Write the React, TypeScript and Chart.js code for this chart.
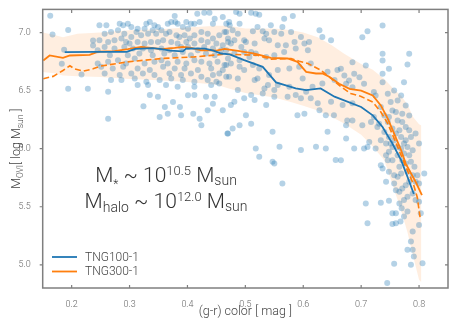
import React, { useEffect, useRef } from 'react';
import { Chart, registerables } from 'chart.js';

Chart.register(...registerables);

const FONT = "Roboto, 'Open Sans', 'DejaVu Sans', sans-serif";

const xTicks = [0.2, 0.3, 0.4, 0.5, 0.6, 0.7, 0.8];
const yTicks = [5.0, 5.5, 6.0, 6.5, 7.0];

// TNG100-1 median (solid blue)
const tng100X = [0.188, 0.24, 0.295, 0.31, 0.34, 0.355, 0.37, 0.392, 0.398, 0.43, 0.445, 0.458, 0.473, 0.498, 0.53, 0.553, 0.587, 0.605, 0.63, 0.654, 0.7, 0.72, 0.737, 0.754, 0.769, 0.78, 0.791];
const tng100Y = [6.832, 6.834, 6.834, 6.86, 6.866, 6.858, 6.845, 6.838, 6.865, 6.862, 6.845, 6.82, 6.812, 6.763, 6.705, 6.571, 6.519, 6.505, 6.519, 6.448, 6.359, 6.287, 6.187, 6.044, 5.901, 5.758, 5.61];

// TNG300-1 median (solid orange)
const tng300X = [0.151, 0.162, 0.185, 0.197, 0.231, 0.246, 0.274, 0.297, 0.32, 0.337, 0.355, 0.378, 0.392, 0.406, 0.424, 0.438, 0.45, 0.464, 0.49, 0.516, 0.544, 0.573, 0.59, 0.605, 0.622, 0.633, 0.645, 0.662, 0.68, 0.7, 0.72, 0.734, 0.746, 0.757, 0.769, 0.777, 0.794, 0.805];
const tng300Y = [6.76, 6.803, 6.783, 6.803, 6.809, 6.837, 6.84, 6.857, 6.877, 6.868, 6.857, 6.868, 6.877, 6.868, 6.848, 6.848, 6.845, 6.86, 6.84, 6.82, 6.783, 6.777, 6.748, 6.662, 6.648, 6.648, 6.62, 6.56, 6.515, 6.5, 6.459, 6.373, 6.259, 6.13, 5.987, 5.872, 5.715, 5.601];

// TNG300-1 secondary (dashed orange)
const tng300bX = [0.151, 0.168, 0.185, 0.197, 0.205, 0.22, 0.237, 0.249, 0.297, 0.355, 0.412, 0.464, 0.521, 0.544, 0.579, 0.593, 0.608, 0.63, 0.648, 0.665, 0.682, 0.7, 0.72, 0.734, 0.746, 0.757, 0.769, 0.777, 0.79, 0.797, 0.802];
const tng300bY = [6.603, 6.623, 6.674, 6.714, 6.688, 6.668, 6.688, 6.711, 6.748, 6.777, 6.791, 6.814, 6.805, 6.771, 6.777, 6.754, 6.734, 6.677, 6.605, 6.534, 6.476, 6.45, 6.402, 6.316, 6.216, 6.087, 5.944, 5.844, 5.7, 5.58, 5.4];

// TNG300-1 scatter band
const bandX = [0.15, 0.17, 0.185, 0.21, 0.25, 0.3, 0.35, 0.4, 0.45, 0.47, 0.5, 0.55, 0.58, 0.6, 0.625, 0.65, 0.67, 0.7, 0.72, 0.74, 0.755, 0.77, 0.78, 0.79, 0.8, 0.804];
const bandHigh = [7.0, 6.98, 6.96, 6.99, 7.0, 7.02, 7.03, 7.045, 7.06, 7.06, 7.035, 7.035, 7.02, 7.0, 6.96, 6.89, 6.82, 6.73, 6.68, 6.6, 6.52, 6.45, 6.38, 6.27, 6.21, 6.2];
const bandLow = [6.66, 6.65, 6.63, 6.625, 6.617, 6.6, 6.59, 6.575, 6.55, 6.52, 6.48, 6.44, 6.4, 6.37, 6.33, 6.27, 6.22, 6.12, 6.02, 5.9, 5.68, 5.45, 5.28, 5.07, 4.87, 4.85];

// individual galaxies: [(g-r) color, log M_OVI]
const galaxies: [number, number][] = [
  [0.378,7.143],[0.379,7.092],[0.383,7.077],[0.417,7.163],[0.429,7.172],[0.438,7.172],[0.447,7.120],[0.461,7.134],[0.467,7.077],[0.473,7.063],[0.398,7.092],[0.406,7.077],[0.412,7.077],[0.421,7.092],[0.444,7.077],[0.283,7.077],[0.289,7.063],[0.297,7.077],[0.260,7.063],[0.248,7.063],[0.329,7.077],[0.335,7.092],[0.343,7.063],[0.349,7.049],[0.366,7.077],[0.372,7.092],[0.392,7.049],[0.401,7.034],[0.314,7.034],[0.326,7.034],[0.303,7.049],
  [0.257,6.991],[0.268,7.006],[0.280,7.020],[0.291,6.991],[0.303,6.963],[0.312,7.006],[0.320,6.977],[0.332,6.991],[0.340,7.020],[0.346,6.991],[0.355,7.020],[0.363,6.991],[0.369,7.006],[0.381,6.977],[0.386,6.963],[0.395,6.977],[0.404,6.949],[0.412,6.977],[0.424,7.006],[0.435,6.991],[0.444,6.949],[0.455,6.977],[0.464,7.006],[0.248,6.934],[0.263,6.920],[0.274,6.934],[0.286,6.949],[0.294,6.920],[0.300,6.906],[0.314,6.920],[0.326,6.906],[0.337,6.920],[0.349,6.920],[0.358,6.934],[0.372,6.920],[0.383,6.906],[0.398,6.920],[0.412,6.906],[0.424,6.934],[0.435,6.920],[0.450,6.906],[0.461,6.891],[0.470,6.920],
  [0.245,6.848],[0.257,6.877],[0.274,6.863],[0.291,6.877],[0.306,6.863],[0.323,6.863],[0.337,6.848],[0.355,6.863],[0.369,6.848],[0.389,6.877],[0.401,6.877],[0.418,6.848],[0.429,6.877],[0.444,6.863],[0.458,6.848],[0.266,6.805],[0.297,6.805],[0.317,6.820],[0.340,6.805],[0.360,6.820],[0.378,6.805],[0.392,6.834],[0.406,6.805],[0.432,6.820],[0.447,6.805],
  [0.245,6.734],[0.263,6.748],[0.280,6.763],[0.294,6.734],[0.309,6.777],[0.326,6.734],[0.343,6.748],[0.355,6.763],[0.366,6.734],[0.383,6.748],[0.398,6.734],[0.412,6.763],[0.424,6.748],[0.438,6.734],[0.452,6.748],[0.467,6.720],[0.251,6.705],[0.271,6.691],[0.289,6.705],[0.314,6.691],[0.335,6.677],[0.358,6.705],[0.378,6.691],[0.395,6.691],[0.418,6.677],[0.441,6.691],[0.461,6.677],
  [0.257,6.648],[0.283,6.634],[0.303,6.648],[0.323,6.648],[0.343,6.634],[0.369,6.648],[0.389,6.634],[0.406,6.648],[0.424,6.620],[0.444,6.634],[0.455,6.648],[0.467,6.620],[0.268,6.591],[0.286,6.591],[0.309,6.605],[0.329,6.577],[0.352,6.591],[0.372,6.605],[0.392,6.591],[0.412,6.577],[0.435,6.591],[0.450,6.577],[0.314,6.548],[0.332,6.548],[0.363,6.548],[0.383,6.534],[0.412,6.534],[0.441,6.548],[0.455,6.562],
  [0.263,6.491],[0.335,6.462],[0.349,6.448],[0.412,6.462],[0.432,6.448],[0.447,6.448],
  [0.484,7.177],[0.490,7.163],[0.510,7.172],[0.518,7.163],[0.524,7.154],[0.582,7.143],[0.472,7.092],[0.490,7.077],[0.521,7.049],[0.544,7.063],[0.567,7.120],[0.564,7.049],[0.467,7.006],[0.478,7.020],[0.487,6.991],[0.513,7.011],[0.530,7.011],[0.536,6.991],[0.550,7.006],[0.562,6.991],[0.579,7.006],[0.596,6.963],[0.585,6.920],[0.602,6.906],[0.610,6.920],[0.628,7.020],[0.633,6.963],[0.648,6.934],[0.470,6.949],[0.481,6.934],[0.498,6.934],[0.475,6.906],[0.493,6.877],[0.501,6.920],[0.516,6.906],[0.533,6.949],[0.541,6.934],[0.556,6.891],[0.570,6.891],[0.567,6.834],[0.550,6.805],[0.498,6.834],[0.510,6.834],[0.518,6.820],[0.536,6.791],[0.467,6.848],[0.481,6.820],[0.587,6.863],[0.608,6.848],[0.470,6.777],[0.490,6.763],[0.507,6.791],[0.464,6.720],[0.475,6.734],[0.490,6.705],[0.498,6.677],[0.513,6.720],[0.524,6.691],[0.541,6.634],[0.556,6.677],[0.576,6.691],[0.593,6.705],[0.613,6.734],[0.642,6.662],[0.659,6.677],[0.472,6.620],[0.487,6.605],[0.516,6.591],[0.521,6.605],[0.539,6.548],[0.550,6.505],[0.533,6.519],[0.556,6.548],[0.576,6.534],[0.599,6.605],[0.605,6.491],[0.616,6.534],[0.633,6.562],[0.654,6.591],[0.487,6.505],[0.510,6.462],[0.516,6.419],[0.498,6.434],[0.530,6.476],[0.550,6.448],[0.573,6.448],[0.587,6.462],[0.596,6.434],[0.613,6.434],[0.625,6.391],[0.648,6.405],[0.668,6.376],[0.685,6.391],[0.481,6.405],[0.536,6.376],[0.475,6.376],
  [0.737,6.817],[0.783,6.817],[0.737,6.759],[0.780,6.725],[0.708,6.716],[0.748,6.688],[0.737,6.645],[0.685,6.745],[0.665,6.688],[0.671,6.631],[0.688,6.645],[0.697,6.616],[0.679,6.588],[0.674,6.559],[0.705,6.559],[0.685,6.530],[0.737,6.573],[0.774,6.573],[0.722,6.488],[0.725,6.459],[0.746,6.473],[0.757,6.502],[0.769,6.459],[0.763,6.416],[0.751,6.402],[0.777,6.373],[0.783,6.287],[0.754,6.330],[0.760,6.316],[0.734,6.359],[0.740,6.287],[0.731,6.216],[0.722,6.273],[0.676,6.244],[0.685,6.244],[0.674,6.201],[0.702,6.201],[0.717,6.230],[0.728,6.187],[0.746,6.230],[0.763,6.244],[0.771,6.230],[0.777,6.187],[0.766,6.159],[0.754,6.173],[0.740,6.144],[0.748,6.101],[0.734,6.073],[0.743,6.044],[0.757,6.073],[0.769,6.101],[0.777,6.073],[0.786,6.101],[0.794,6.130],[0.800,6.044],[0.780,6.015],[0.769,6.001],[0.754,6.015],[0.748,5.973],[0.743,5.944],[0.763,5.944],[0.774,5.958],[0.783,5.944],[0.786,5.887],[0.777,5.872],[0.766,5.844],[0.754,5.901],[0.734,5.858],[0.737,5.830],[0.748,5.801],[0.757,5.772],[0.769,5.787],[0.780,5.801],[0.792,5.844],[0.797,5.772],[0.789,5.772],[0.809,5.787],[0.688,6.001],[0.705,6.001],[0.711,6.015],[0.725,6.001],[0.714,6.058],[0.674,6.087],[0.665,5.901],[0.763,5.758],
  [0.748,6.273],[0.771,6.302],[0.760,6.130],[0.774,6.044],[0.789,5.987],[0.751,6.044],[0.746,5.901],[0.771,5.901],[0.763,6.015],[0.783,6.159],
  [0.702,6.960],[0.711,7.012],[0.737,7.061],[0.461,6.331],[0.501,6.288],[0.510,6.216],[0.490,6.202],[0.478,6.173],[0.469,6.131],[0.547,6.145],[0.559,6.016],[0.596,5.988],[0.622,6.016],[0.639,6.002],[0.642,6.145],[0.590,6.288],[0.602,6.302],[0.628,6.331],[0.639,6.288],[0.653,6.288],[0.547,5.887],[0.524,5.930],[0.518,6.002],[0.656,5.902],
  [0.163,7.146],[0.167,6.983],[0.194,7.023],[0.187,6.852],[0.183,6.731],[0.194,6.517],[0.228,6.517],[0.217,6.640],[0.237,6.889],[0.237,6.932],[0.263,6.259],[0.324,6.365],[0.352,6.274],[0.361,6.360],[0.366,6.302],[0.375,6.402],[0.387,6.360],[0.389,6.288],[0.401,6.460],[0.410,6.302],[0.421,6.259],[0.424,6.202],[0.435,6.331],[0.444,6.388],[0.470,6.131],
  [0.550,5.872],[0.564,5.701],[0.708,5.529],[0.711,5.357],[0.734,5.535],[0.748,5.552],[0.754,5.443],[0.760,5.443],[0.754,5.352],[0.760,5.357],[0.768,5.372],[0.774,5.415],[0.770,5.486],[0.780,5.458],[0.766,5.529],[0.774,5.558],[0.780,5.586],[0.789,5.615],[0.794,5.558],[0.800,5.543],[0.803,5.443],[0.800,5.343],[0.789,5.286],[0.786,5.200],[0.780,5.129],[0.789,5.129],[0.791,5.071],[0.786,5.000],[0.806,5.014],[0.757,5.008],[0.745,4.842],[0.760,5.643],[0.766,5.629],[0.771,5.658],[0.777,5.686],[0.794,5.715],[0.800,5.701],[0.783,5.715],[0.743,5.715],[0.757,5.701],
];

const BLUE = '#1f77b4';
const ORANGE = '#ff7f0e';

type Seg = { t: string; size: number; dy: number };

function drawRich(ctx: CanvasRenderingContext2D, segs: Seg[], cx: number, base: number, weight: string) {
  let total = 0;
  const widths: number[] = [];
  for (const s of segs) {
    ctx.font = `${weight} ${s.size}px ${FONT}`;
    const w = ctx.measureText(s.t).width;
    widths.push(w);
    total += w;
  }
  let x = cx - total / 2;
  segs.forEach((s, i) => {
    ctx.font = `${weight} ${s.size}px ${FONT}`;
    ctx.fillText(s.t, x, base + s.dy);
    x += widths[i];
  });
}

const decorPlugin = {
  id: 'decor',
  afterDraw(chart: any) {
    const { ctx, chartArea: a, scales } = chart;
    ctx.save();
    // frame
    ctx.strokeStyle = '#7f7f7f';
    ctx.lineWidth = 1.5;
    ctx.strokeRect(a.left, a.top, a.right - a.left, a.bottom - a.top);
    ctx.lineWidth = 1.2;
    ctx.beginPath();
    for (const v of xTicks) {
      const px = scales.x.getPixelForValue(v);
      ctx.moveTo(px, a.top);
      ctx.lineTo(px, a.top + 3.5);
      ctx.moveTo(px, a.bottom);
      ctx.lineTo(px, a.bottom - 3);
    }
    for (const v of yTicks) {
      const py = scales.y.getPixelForValue(v);
      ctx.moveTo(a.left - 3, py);
      ctx.lineTo(a.left, py);
      ctx.moveTo(a.right, py);
      ctx.lineTo(a.right - 3, py);
    }
    ctx.stroke();

    // annotation
    ctx.fillStyle = '#333333';
    ctx.textAlign = 'left';
    ctx.textBaseline = 'alphabetic';
    drawRich(ctx, [
      { t: 'M', size: 21, dy: 0 },
      { t: '*', size: 12, dy: 6 },
      { t: ' ~ 10', size: 21, dy: 0 },
      { t: '10.5', size: 13, dy: -7 },
      { t: ' M', size: 21, dy: 0 },
      { t: 'sun', size: 14, dy: 3 },
    ], 166, 182, '300');
    drawRich(ctx, [
      { t: 'M', size: 21, dy: 0 },
      { t: 'halo', size: 14, dy: 4 },
      { t: ' ~ 10', size: 21, dy: 0 },
      { t: '12.0', size: 13, dy: -7 },
      { t: ' M', size: 21, dy: 0 },
      { t: 'sun', size: 14, dy: 3 },
    ], 166, 208, '300');

    // legend
    const leg = [
      { label: 'TNG100-1', color: BLUE, y: 257 },
      { label: 'TNG300-1', color: ORANGE, y: 271.5 },
    ];
    ctx.lineWidth = 1.8;
    for (const l of leg) {
      ctx.strokeStyle = l.color;
      ctx.beginPath();
      ctx.moveTo(52, l.y);
      ctx.lineTo(77, l.y);
      ctx.stroke();
      ctx.fillStyle = '#444444';
      ctx.font = `300 12px ${FONT}`;
      ctx.textBaseline = 'middle';
      ctx.fillText(l.label, 85, l.y + 0.5);
    }

    // axis titles
    ctx.textBaseline = 'alphabetic';
    ctx.fillStyle = '#444444';
    drawRich(ctx, [{ t: '(g-r) color [ mag ]', size: 12.5, dy: 0 }], (a.left + a.right) / 2, 315, '300');
    ctx.save();
    ctx.translate(0, (a.top + a.bottom) / 2);
    ctx.rotate(-Math.PI / 2);
    drawRich(ctx, [
      { t: 'M', size: 12.5, dy: 0 },
      { t: 'OVI', size: 8.5, dy: 2.5 },
      { t: '[ log M', size: 12.5, dy: 0 },
      { t: 'sun', size: 8.5, dy: 2.5 },
      { t: ' ]', size: 12.5, dy: 0 },
    ], 0, 20, '300');
    ctx.restore();
    ctx.restore();
  },
};

export default function App() {
  const ref = useRef<HTMLCanvasElement | null>(null);
  useEffect(() => {
    if (!ref.current) return;
    const chart = new Chart(ref.current, {
      type: 'line',
      data: {
        datasets: [
          {
            label: 'TNG100-1',
            data: tng100X.map((x, i) => ({ x, y: tng100Y[i] })),
            borderColor: BLUE,
            borderWidth: 1.8,
            pointRadius: 0,
            fill: false,
            tension: 0,
            order: 1,
          },
          {
            label: 'TNG300-1',
            data: tng300X.map((x, i) => ({ x, y: tng300Y[i] })),
            borderColor: ORANGE,
            borderWidth: 1.8,
            pointRadius: 0,
            fill: false,
            tension: 0,
            order: 2,
          },
          {
            label: 'TNG300-1 (dashed)',
            data: tng300bX.map((x, i) => ({ x, y: tng300bY[i] })),
            borderColor: ORANGE,
            borderWidth: 1.6,
            borderDash: [6, 3],
            pointRadius: 0,
            fill: false,
            tension: 0,
            order: 3,
          },
          {
            label: 'galaxies',
            data: galaxies.map(([x, y]) => ({ x, y })),
            showLine: false,
            pointRadius: 3,
            pointBorderWidth: 0,
            pointBackgroundColor: 'rgba(31,119,180,0.33)',
            pointBorderColor: 'rgba(0,0,0,0)',
            order: 5,
          },
          {
            label: 'band low',
            data: bandX.map((x, i) => ({ x, y: bandLow[i] })),
            borderWidth: 0,
            borderColor: 'rgba(0,0,0,0)',
            pointRadius: 0,
            fill: false,
            order: 10,
          },
          {
            label: 'band high',
            data: bandX.map((x, i) => ({ x, y: bandHigh[i] })),
            borderWidth: 0,
            borderColor: 'rgba(0,0,0,0)',
            backgroundColor: 'rgba(255,127,14,0.13)',
            pointRadius: 0,
            fill: '-1',
            order: 11,
          },
        ],
      },
      options: {
        animation: false,
        responsive: true,
        maintainAspectRatio: false,
        layout: { padding: { top: 8, right: 9, left: 0, bottom: 0 } },
        plugins: { legend: { display: false }, tooltip: { enabled: false } },
        scales: {
          x: {
            type: 'linear',
            min: 0.15,
            max: 0.85,
            grid: { display: false },
            border: { display: false },
            afterBuildTicks: (s: any) => { s.ticks = xTicks.map((v) => ({ value: v })); },
            afterFit: (s: any) => { s.height = 39; },
            ticks: {
              padding: 3,
              color: '#666666',
              font: { family: FONT, size: 9, weight: '300' as any },
              callback: (v: any) => Number(v).toFixed(1),
            },
          },
          y: {
            type: 'linear',
            min: 4.8,
            max: 7.2,
            grid: { display: false },
            border: { display: false },
            afterBuildTicks: (s: any) => { s.ticks = yTicks.map((v) => ({ value: v })); },
            afterFit: (s: any) => { s.width = 42.7; },
            ticks: {
              padding: 4,
              color: '#666666',
              font: { family: FONT, size: 9, weight: '300' as any },
              callback: (v: any) => Number(v).toFixed(1),
            },
          },
        },
      } as any,
      plugins: [decorPlugin],
    });
    return () => chart.destroy();
  }, []);
  return (
    <div style={{ position: 'fixed', left: 0, top: 0, width: 457, height: 327, background: '#fff' }}>
      <canvas ref={ref} />
    </div>
  );
}
